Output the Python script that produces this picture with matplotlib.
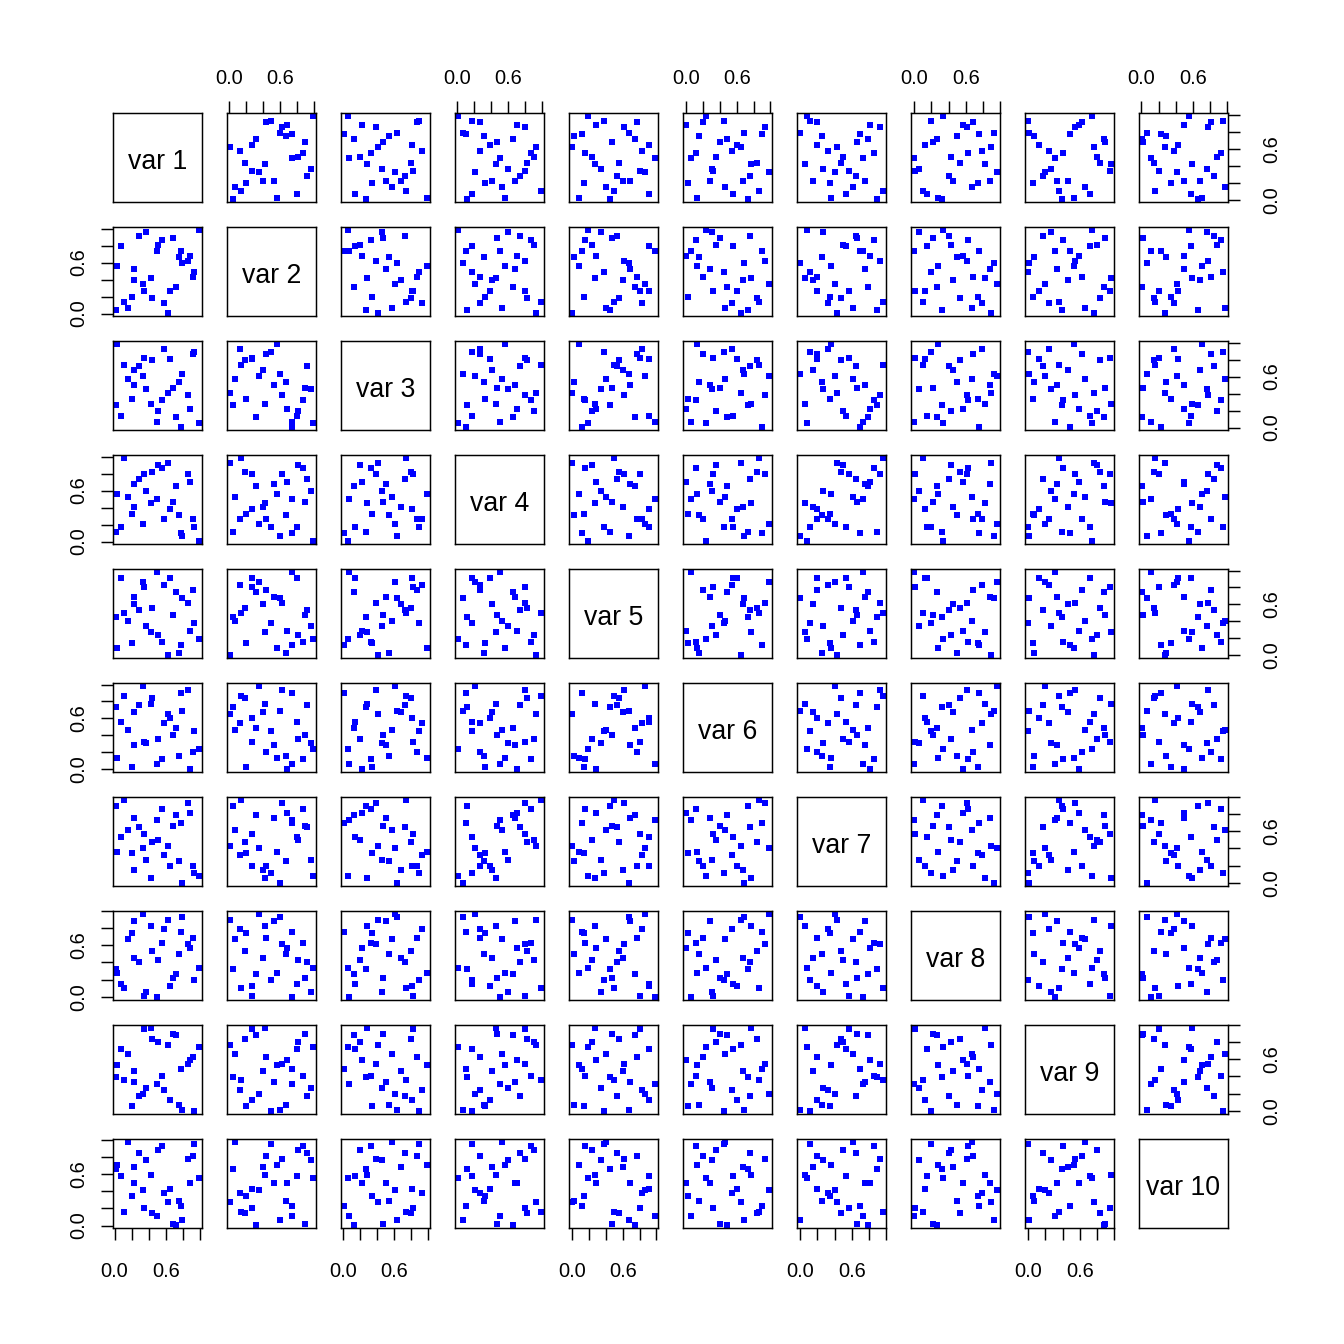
import matplotlib
matplotlib.use("Agg")
import matplotlib.pyplot as plt
import numpy as np

plt.rcParams['font.family'] = ['Liberation Sans', 'DejaVu Sans']

var1 = [0.98,0.37,0.29,0.55,0.68,0.50,0.08,0.49,0.77,0.88,0.75,0.85,0.79,0.03,0.23,0.93,0.91,0.42,0.23,0.33,0.71,0.64,0.34,0.20,0.44,0.11,0.58,0.16,0.02,0.62]
var2 = [0.98,0.96,0.91,0.87,0.89,0.81,0.80,0.74,0.74,0.68,0.66,0.62,0.59,0.56,0.52,0.49,0.43,0.42,0.40,0.35,0.31,0.27,0.26,0.20,0.18,0.14,0.13,0.06,0.04,0.01]
var3 = [0.05,0.45,0.72,0.32,0.47,0.20,0.14,0.07,0.01,0.22,0.54,0.38,0.63,0.98,0.50,0.89,0.86,0.28,0.68,0.61,0.12,0.81,0.82,0.34,0.79,0.74,0.93,0.57,0.26,0.41]
var4 = [0.01,0.60,0.74,0.86,0.47,0.90,0.17,0.50,0.10,0.70,0.31,0.80,0.07,0.56,0.68,0.17,0.26,0.45,0.41,0.21,0.65,0.38,0.79,0.33,0.82,0.98,0.27,0.53,0.11,0.93]
var5 = [0.19,0.34,0.53,0.15,0.47,0.24,0.91,0.98,0.11,0.28,0.02,0.62,0.67,0.08,0.69,0.38,0.77,0.27,0.60,0.86,0.74,0.91,0.80,0.14,0.56,0.49,0.83,0.40,0.45,0.00]
var6 = [0.24,0.31,0.76,0.11,0.40,0.35,0.56,0.06,0.90,0.00,0.15,0.94,0.69,0.13,0.28,0.45,0.20,0.77,0.68,0.98,0.48,0.60,0.32,0.02,0.84,0.86,0.54,0.46,0.73,0.65]
var7 = [0.08,0.26,0.65,0.86,0.66,0.50,0.53,0.73,0.70,0.81,0.25,0.93,0.00,0.36,0.76,0.11,0.20,0.05,0.15,0.41,0.79,0.19,0.57,0.35,0.47,0.96,0.32,0.61,0.89,0.43]
var8 = [0.34,0.05,0.40,0.63,0.22,0.43,0.15,0.00,0.76,0.57,0.50,0.61,0.93,0.28,0.88,0.20,0.69,0.83,0.45,0.96,0.27,0.13,0.01,0.74,0.53,0.10,0.79,0.67,0.32,0.89]
var9 = [0.74,0.26,0.17,0.41,0.89,0.80,0.72,0.31,0.49,0.59,0.07,0.55,0.01,0.53,0.34,0.00,0.63,0.96,0.46,0.20,0.88,0.12,0.95,0.06,0.84,0.36,0.24,0.66,0.39,0.77]
var10 = [0.55,0.76,0.84,0.93,0.02,0.88,0.58,0.11,0.23,0.49,0.29,0.77,0.07,0.70,0.50,0.95,0.81,0.59,0.68,0.41,0.01,0.43,0.21,0.35,0.15,0.16,0.38,0.97,0.66,0.27]

variables = [var1, var2, var3, var4, var5, var6, var7, var8, var9, var10]
names = ["var 1", "var 2", "var 3", "var 4", "var 5", "var 6", "var 7", "var 8", "var 9", "var 10"]
tick_values = [0.0, 0.2, 0.4, 0.6, 0.8, 1.0]
tick_labels = ["0.0", "", "", "0.6", "", ""]

W = 1344.0
n = len(variables)
left0, step, size = 113.0, 114.0, 89.0

def lims(v):
    v = np.asarray(v)
    lo, hi = v.min(), v.max()
    r = hi - lo
    return lo - 0.04 * r, hi + 0.04 * r

fig = plt.figure(figsize=(7, 7), dpi=192)
lw = 0.55
tick_len = 4.5
fs_tick = 7.5

for i in range(n):        # row
    for j in range(n):    # column
        x0 = (left0 + j * step) / W
        y0 = 1 - (left0 + i * step + size) / W
        ax = fig.add_axes([x0, y0, size / W, size / W])
        for sp in ax.spines.values():
            sp.set_linewidth(lw)
        ax.set_xlim(*lims(variables[j]))
        ax.set_ylim(*lims(variables[i]))
        ax.tick_params(which='both', length=0, labelbottom=False, labelleft=False,
                       bottom=False, left=False, top=False, right=False,
                       labeltop=False, labelright=False)
        ax.set_xticks(tick_values)
        ax.set_yticks(tick_values)
        ax.set_xticklabels(tick_labels)
        ax.set_yticklabels(tick_labels)
        if i == j:
            ax.text(0.5, 0.455, names[i], transform=ax.transAxes, ha='center', va='center',
                    fontsize=10)
        else:
            ax.plot(variables[j], variables[i], linestyle='none', marker='s',
                    markersize=1.9, markeredgewidth=0, color='#0000ff')
        # x axes
        if i == 0 and j % 2 == 1:
            ax.tick_params(axis='x', top=True, labeltop=True, length=tick_len,
                           width=lw, direction='out', labelsize=fs_tick, pad=4.8)
        if i == n - 1 and j % 2 == 0:
            ax.tick_params(axis='x', bottom=True, labelbottom=True, length=tick_len,
                           width=lw, direction='out', labelsize=fs_tick, pad=8.3)
        # y axes
        if j == 0 and i % 2 == 1:
            ax.tick_params(axis='y', left=True, labelleft=True, length=tick_len,
                           width=lw, direction='out', labelsize=fs_tick, pad=4.6,
                           labelrotation=90)
            for lab in ax.get_yticklabels():
                lab.set_verticalalignment('center')
        if j == n - 1 and i % 2 == 0:
            ax.tick_params(axis='y', right=True, labelright=True, length=tick_len,
                           width=lw, direction='out', labelsize=fs_tick, pad=8.3,
                           labelrotation=90)
            for lab in ax.get_yticklabels():
                lab.set_verticalalignment('center')

fig.savefig("out.png", dpi=192, facecolor='white')
